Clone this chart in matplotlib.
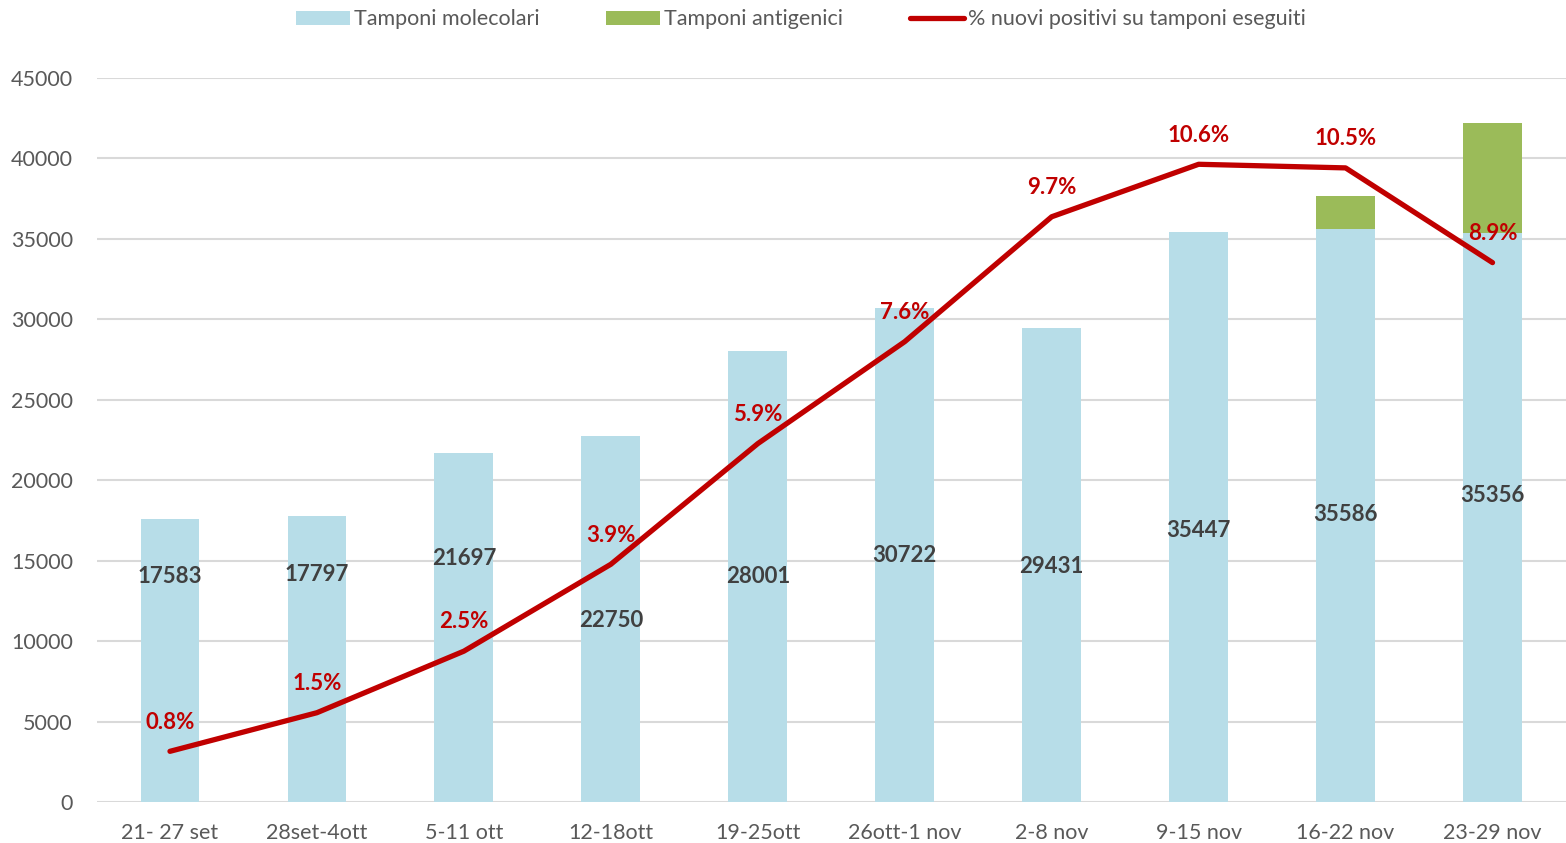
import numpy as np
import matplotlib
matplotlib.use("Agg")
import matplotlib.pyplot as plt
from matplotlib.patches import Patch
from matplotlib.lines import Line2D

plt.rcParams['font.family'] = ['Lato', 'DejaVu Sans']

# --- data ---
weeks = ["21- 27 set", "28set-4ott", "5-11 ott", "12-18ott", "19-25ott",
         "26ott-1 nov", "2-8 nov", "9-15 nov", "16-22 nov", "23-29 nov"]
molecolari = [17583, 17797, 21697, 22750, 28001, 30722, 29431, 35447, 35586, 35356]
antigenici = [0, 0, 0, 0, 0, 0, 0, 0, 2085, 6830]
pct_positivi = [0.84, 1.48, 2.50, 3.94, 5.94, 7.63, 9.70, 10.57, 10.51, 8.94]

# where the bar value labels sit (hand placed in the original)
label_y = [14030, 14130, 15150, 11310, 14000, 15350, 14625, 16860, 17840, 19020]

c_mol = "#B7DDE8"
c_ant = "#9BBB59"
c_line = "#C00000"
c_txt = "#595959"

fig = plt.figure(figsize=(15.66, 8.43), dpi=100)
ax = fig.add_axes([96.5 / 1566, 41 / 843, 1 - 96.5 / 1566, 724 / 843])

x = np.arange(len(weeks))
ax.bar(x, molecolari, width=0.4, color=c_mol, zorder=2)
ax.bar(x, antigenici, width=0.4, bottom=molecolari, color=c_ant, zorder=2)

for xi, v, ly in zip(x, molecolari, label_y):
    ax.text(xi, ly, str(v), ha='center', va='center', fontsize=16,
            fontweight='bold', color='#404040', zorder=5)

ax.set_xlim(-0.5, len(weeks) - 0.5)
ax.set_ylim(0, 45000)
ax.set_yticks(np.arange(0, 45001, 5000))
ax.set_xticks(x)
ax.set_xticklabels(weeks)
ax.tick_params(axis='both', length=0, labelsize=15.5, labelcolor=c_txt)
ax.tick_params(axis='y', pad=17)
ax.tick_params(axis='x', pad=15)
ax.grid(axis='y', color='#D9D9D9', linewidth=1.5, zorder=0)
ax.set_axisbelow(True)
for s in ax.spines.values():
    s.set_visible(False)

# secondary axis for the percentage line (hidden)
ax2 = ax.twinx()
ax2.set_ylim(0, 12)
ax2.plot(x, pct_positivi, color=c_line, linewidth=3.8, solid_capstyle='round', zorder=4)
for xi, p in zip(x, pct_positivi):
    ax2.annotate(f"{p:.1f}%", (xi, p), xytext=(0, 21), textcoords='offset points',
                 ha='center', va='center', fontsize=16, fontweight='bold', color=c_line)
ax2.set_yticks([])
for s in ax2.spines.values():
    s.set_visible(False)

handles = [Patch(facecolor=c_mol, edgecolor='none'),
           Patch(facecolor=c_ant, edgecolor='none'),
           Line2D([0], [0], color=c_line, linewidth=3.8, solid_capstyle='round')]
labels = ["Tamponi molecolari", "Tamponi antigenici", "% nuovi positivi su tamponi eseguiti"]
fig.legend(handles, labels, loc='upper center', bbox_to_anchor=(801 / 1566, 1.012),
           ncol=3, frameon=False, fontsize=15.5, labelcolor=c_txt,
           handlelength=2.5, handleheight=0.6, handletextpad=0.2, columnspacing=3.1)

fig.savefig("out.png", dpi=100)
